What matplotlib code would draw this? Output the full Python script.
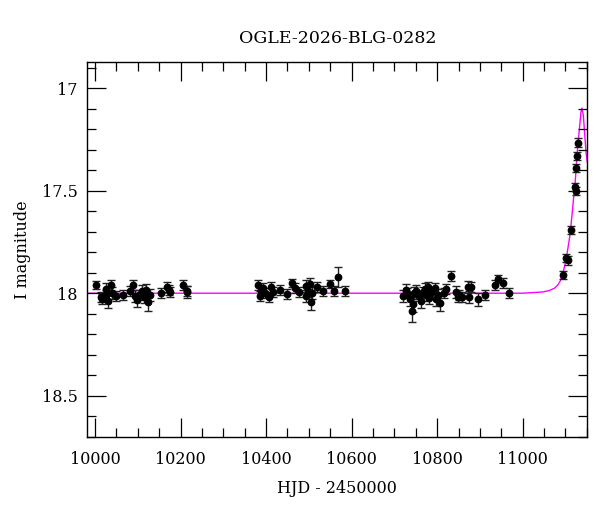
import matplotlib
matplotlib.use("Agg")
import matplotlib.pyplot as plt
from matplotlib.ticker import MultipleLocator

# Observations (HJD-2450000, I mag, error)
hjd = [10001.6, 10013, 10016, 10025, 10026, 10030, 10037, 10039, 10049, 10066,
       10083, 10089, 10093, 10099, 10104, 10110, 10115, 10120, 10125, 10128,
       10155, 10169, 10172, 10176, 10205, 10214, 10216,
       10381, 10385, 10389, 10392, 10397, 10406, 10411, 10416, 10432, 10450,
       10461, 10467, 10476, 10493, 10494, 10498, 10502, 10504, 10508, 10519,
       10533, 10549, 10558, 10568, 10585,
       10720, 10726, 10730, 10737, 10741, 10743, 10747, 10751, 10757, 10763,
       10766, 10771, 10775, 10778, 10781, 10786, 10794, 10798, 10801, 10807,
       10815, 10820, 10833, 10844, 10848, 10851, 10858, 10872, 10874, 10878,
       10895, 10911, 10936, 10942, 10953, 10967,
       11094, 11101, 11105, 11113, 11123, 11124, 11125.5, 11127, 11130]
mag = [17.96, 18.02, 18.03, 17.98, 18.01, 18.04, 17.96, 18.00, 18.015, 18.01,
       17.99, 17.96, 18.015, 18.035, 18.01, 17.99, 18.02, 17.985, 18.045, 18.01,
       18.00, 17.97, 17.985, 17.995, 17.96, 17.995, 17.99,
       17.96, 18.015, 17.99, 17.975, 18.00, 18.02, 17.97, 17.995, 17.985, 18.005,
       17.95, 17.975, 17.995, 17.965, 18.015, 17.99, 17.955, 18.045, 18.00, 17.97,
       17.99, 17.955, 17.99, 17.92, 17.99,
       18.015, 17.985, 18.00, 18.03, 18.085, 18.055, 18.00, 17.99, 18.015, 18.04,
       17.995, 17.98, 18.01, 17.97, 18.025, 18.00, 17.975, 18.03, 18.01, 18.05,
       18.00, 17.98, 17.915, 17.995, 18.02, 18.01, 18.02, 17.97, 18.02, 17.97,
       18.03, 18.01, 17.96, 17.93, 17.95, 18.00,
       17.91, 17.83, 17.84, 17.69, 17.48, 17.50, 17.39, 17.33, 17.265]
err = [0.02, 0.025, 0.025, 0.03, 0.025, 0.03, 0.025, 0.03, 0.025, 0.025,
       0.025, 0.025, 0.03, 0.03, 0.025, 0.03, 0.03, 0.03, 0.04, 0.03,
       0.025, 0.025, 0.025, 0.025, 0.025, 0.03, 0.025,
       0.025, 0.025, 0.025, 0.025, 0.025, 0.025, 0.025, 0.025, 0.025, 0.025,
       0.02, 0.025, 0.025, 0.03, 0.03, 0.03, 0.03, 0.035, 0.03, 0.025,
       0.025, 0.02, 0.025, 0.05, 0.025,
       0.03, 0.03, 0.025, 0.03, 0.055, 0.035, 0.03, 0.03, 0.025, 0.03,
       0.025, 0.03, 0.03, 0.025, 0.03, 0.025, 0.025, 0.03, 0.03, 0.035,
       0.025, 0.025, 0.025, 0.03, 0.025, 0.025, 0.025, 0.03, 0.03, 0.025,
       0.03, 0.025, 0.025, 0.02, 0.025, 0.025,
       0.02, 0.02, 0.02, 0.02, 0.02, 0.02, 0.02, 0.02, 0.02]

# Model curve
model_t = [9982, 11000, 11023, 11047, 11062, 11074, 11082, 11088, 11093, 11099,
           11105, 11111, 11117, 11123, 11128, 11133, 11136, 11138.5, 11141.7,
           11144.8, 11148, 11151]
model_m = [18.0, 18.0, 17.997, 17.994, 17.987, 17.976, 17.96, 17.94, 17.91, 17.86,
           17.79, 17.71, 17.58, 17.45, 17.30, 17.19, 17.12, 17.097, 17.13,
           17.22, 17.31, 17.36]

title = "OGLE-2026-BLG-0282"
xlabel = "HJD - 2450000"
ylabel = "I magnitude"

plt.rcParams['font.family'] = ['DejaVu Serif']
fig = plt.figure(figsize=(6.0, 5.12), dpi=100)
ax = fig.add_axes([0.1455, 0.1471, 0.8333, 0.7318])

ax.plot(model_t, model_m, color='#ff00ff', lw=1.0, zorder=1)
ax.errorbar(hjd, mag, yerr=err, fmt='o', color='black', ms=4.6,
            ecolor='#222222', elinewidth=1.0, capsize=3.0, capthick=1.0, zorder=2)

ax.set_xlim(9982, 11151)
ax.set_ylim(18.70, 16.872)
ax.xaxis.set_major_locator(MultipleLocator(200))
ax.xaxis.set_minor_locator(MultipleLocator(50))
ax.yaxis.set_major_locator(MultipleLocator(0.5))
ax.yaxis.set_minor_locator(MultipleLocator(0.1))
ax.yaxis.set_major_formatter(matplotlib.ticker.FuncFormatter(lambda v, p: f"{v:g}"))

ax.tick_params(which='both', direction='in', top=True, right=True, width=0.9,
               labelsize=11.5)
ax.tick_params(which='major', length=13.5)
ax.tick_params(which='minor', length=6.5)
ax.tick_params(axis='x', which='major', pad=10)
ax.tick_params(axis='y', which='major', pad=7)
for s in ax.spines.values():
    s.set_linewidth(1.0)

ax.set_title(title, fontsize=12.5, pad=14)
ax.set_xlabel(xlabel, fontsize=11.5, labelpad=9)
ax.set_ylabel(ylabel, fontsize=11.5, labelpad=8)

fig.savefig("out.png", dpi=100)
